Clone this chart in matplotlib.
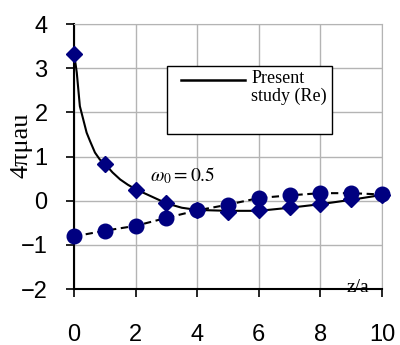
import numpy as np
import matplotlib
matplotlib.use("Agg")
import matplotlib.pyplot as plt
from matplotlib.patches import Rectangle
from matplotlib.lines import Line2D

plt.rcParams['font.family'] = ['Liberation Sans', 'DejaVu Sans']
plt.rcParams['mathtext.fontset'] = 'stix'

# data
z = [0, 1, 2, 3, 4, 5, 6, 7, 8, 9, 10]
re_pts = [3.33, 0.84, 0.25, -0.05, -0.22, -0.25, -0.21, -0.14, -0.08, 0.03, 0.13]
im_pts = [-0.81, -0.68, -0.57, -0.39, -0.22, -0.09, 0.06, 0.12, 0.17, 0.17, 0.14]
curve_z = [0, 0.05, 0.09, 0.14, 0.19, 0.3, 0.41, 0.52, 0.68, 0.84, 1, 1.25, 1.5,
           1.75, 2, 2.5, 3, 3.5, 4, 5, 6, 7, 8, 9, 10]
curve_re = [3.3, 3.1, 2.9, 2.52, 2.14, 1.84, 1.54, 1.35, 1.09, 0.93, 0.84, 0.64,
            0.48, 0.36, 0.26, 0.1, -0.06, -0.16, -0.21, -0.23, -0.23, -0.16,
            -0.08, 0.02, 0.13]
xticks = [0, 2, 4, 6, 8, 10]
yticks = [-2, -1, 0, 1, 2, 3, 4]
navy = '#000080'

fig = plt.figure(figsize=(4, 3.45), dpi=100)
ax = fig.add_axes([0.185, 0.1623, 0.77, 0.7681])

ax.plot(curve_z, curve_re, color='black', lw=1.5, zorder=3)
ax.plot(z, re_pts, ls='none', marker='D', ms=7.7, color=navy, zorder=4, clip_on=False)
ax.plot(z, im_pts, color='black', lw=1.5, ls=(0, (3.5, 2.2)), zorder=3)
ax.plot(z, im_pts, ls='none', marker='o', ms=10.5, color=navy, zorder=5, clip_on=False)

ax.set_xlim(0, 10)
ax.set_ylim(-2, 4)
ax.set_xticks(xticks)
ax.set_yticks(yticks)
ax.grid(True, color='#b4b4b4', lw=1.0)
ax.set_axisbelow(True)
for s in ['top', 'right']:
    ax.spines[s].set_color('#b4b4b4')
for s in ['left', 'bottom']:
    ax.spines[s].set_linewidth(1.5)
ax.tick_params(axis='both', labelsize=17, length=6, width=1.2, direction='out')
ax.tick_params(axis='x', pad=19)
ax.tick_params(axis='y', pad=13)

ax.set_ylabel('4πμau', fontfamily=['Liberation Serif'], fontsize=19, va='center')
ax.yaxis.set_label_coords(-0.169, 0.543)

ax.text(9.2, -1.97, 'z/a', fontfamily=['Liberation Serif'], fontsize=14,
        ha='center', va='center')
ax.text(2.47, 0.43, r'$\omega_0 = 0.5$', fontsize=14, ha='left', va='baseline')

# legend box
ax.add_patch(Rectangle((0.302, 0.585), 0.536, 0.2565, transform=ax.transAxes,
                       facecolor='white', edgecolor='black', lw=1.0, zorder=6))
ax.add_line(Line2D([0.347, 0.555], [0.789, 0.789], transform=ax.transAxes,
                   color='black', lw=1.8, zorder=7))
ax.text(0.575, 0.825, 'Present\nstudy (Re)', transform=ax.transAxes,
        fontfamily=['Liberation Serif'], fontsize=13, ha='left', va='top',
        linespacing=1.0, zorder=7)

fig.savefig('out.png', dpi=100)
